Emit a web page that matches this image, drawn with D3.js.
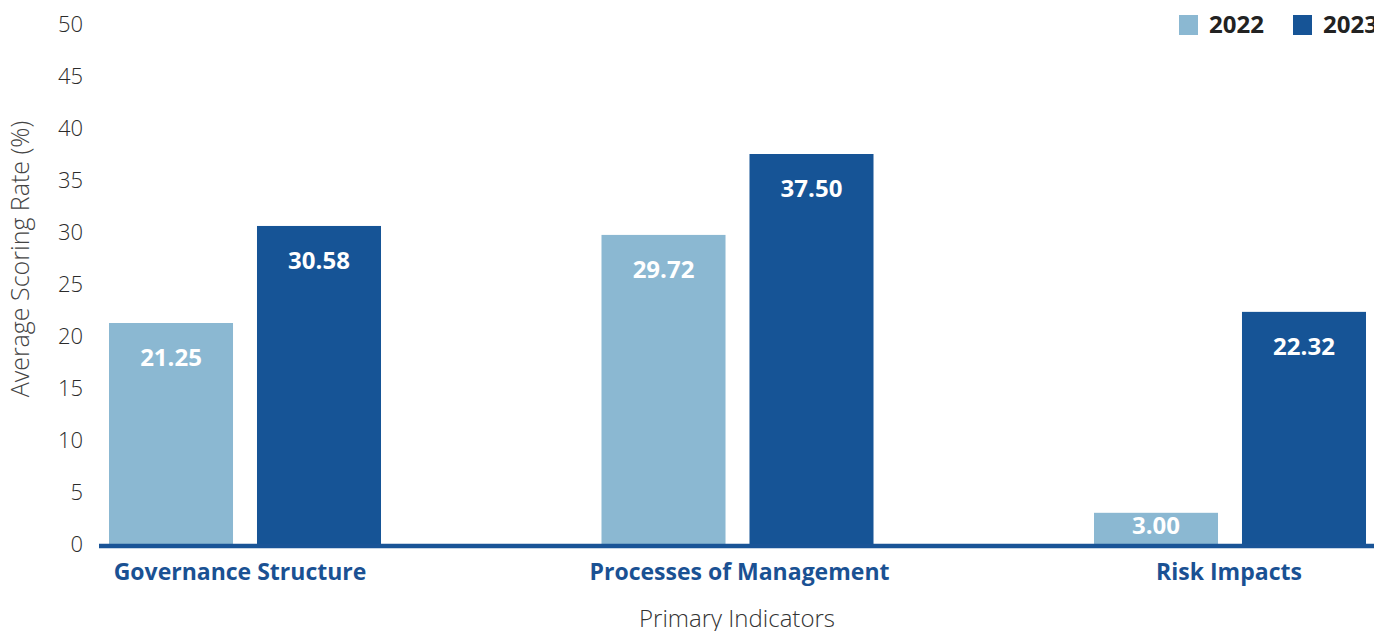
<!DOCTYPE html>
<html>
<head>
<meta charset="utf-8">
<script src="https://cdn.jsdelivr.net/npm/d3@7"></script>
<style>
  html, body { margin: 0; padding: 0; background: #fff; }
  svg { display: block; font-family: "Open Sans", "Noto Sans", sans-serif; }
</style>
</head>
<body>
<svg id="chart" width="1374" height="631"></svg>
<script>
// Average scoring rate by primary indicator, 2022 vs 2023
const categories = ["Governance Structure", "Processes of Management", "Risk Impacts"];
const years = ["2022", "2023"];
const values2022 = [21.25, 29.72, 3.00];
const values2023 = [30.58, 37.50, 22.32];
const yTicks = [0, 5, 10, 15, 20, 25, 30, 35, 40, 45, 50];

const colors = { "2022": "#8bb8d2", "2023": "#165496" };
const seriesValues = { "2022": values2022, "2023": values2023 };

const svg = d3.select("#chart");

const y = d3.scaleLinear().domain([0, 50]).range([544, 24]);

const x0 = d3.scaleBand()
  .domain(categories)
  .range([99, 1376])
  .paddingInner(0.4477)
  .paddingOuter(0.0203);

const x1 = d3.scaleBand()
  .domain(years)
  .range([0, x0.bandwidth()])
  .paddingInner(0.162)
  .paddingOuter(0);

// Y axis: tick labels only
const yAxis = d3.axisLeft(y).tickValues(yTicks).tickSize(0).tickPadding(0);
const gy = svg.append("g").attr("transform", "translate(83,0)").call(yAxis);
gy.select(".domain").remove();
gy.selectAll("text")
  .attr("font-family", "'Open Sans', sans-serif")
  .attr("font-size", 22)
  .attr("font-weight", 300)
  .attr("fill", "#2b2b2b");

// Y axis title
svg.append("text")
  .attr("transform", "translate(29,259) rotate(-90)")
  .attr("text-anchor", "middle")
  .attr("font-size", 25)
  .attr("font-weight", 300)
  .attr("fill", "#444")
  .text("Average Scoring Rate (%)");

// Bars
const rows = categories.map((c, i) => ({
  category: c,
  bars: years.map(yr => ({ year: yr, value: seriesValues[yr][i] }))
}));

const groups = svg.append("g").selectAll("g")
  .data(rows)
  .join("g")
  .attr("transform", d => `translate(${x0(d.category)},0)`);

groups.selectAll("rect")
  .data(d => d.bars)
  .join("rect")
  .attr("x", d => x1(d.year))
  .attr("y", d => y(d.value))
  .attr("width", x1.bandwidth())
  .attr("height", d => y(0) - y(d.value))
  .attr("fill", d => colors[d.year]);

groups.selectAll("text.val")
  .data(d => d.bars)
  .join("text")
  .attr("class", "val")
  .attr("x", d => x1(d.year) + x1.bandwidth() / 2)
  .attr("y", d => Math.min(y(d.value) + 35, y(0) - 18))
  .attr("dy", "0.35em")
  .attr("text-anchor", "middle")
  .attr("font-size", 24)
  .attr("font-weight", 700)
  .attr("fill", "#fff")
  .text(d => d.value.toFixed(2));

// X axis baseline and category labels
const xAxis = d3.axisBottom(x0).tickSize(0).tickPadding(0);
const gx = svg.append("g").attr("transform", `translate(0,${y(0)})`).call(xAxis);
gx.select(".domain").remove();
gx.append("line")
  .attr("x1", 99).attr("x2", 1374)
  .attr("y1", 2).attr("y2", 2)
  .attr("stroke", "#195497")
  .attr("stroke-width", 4.5);
const labelShift = [-5, 2, -1];
gx.selectAll(".tick text")
  .attr("x", (d, i) => labelShift[i])
  .attr("y", 28)
  .attr("dy", "0.35em")
  .attr("font-family", "'Open Sans', sans-serif")
  .attr("font-size", 23)
  .attr("font-weight", 700)
  .attr("fill", "#1a5193");

// X axis title
svg.append("text")
  .attr("x", 737)
  .attr("y", 627)
  .attr("text-anchor", "middle")
  .attr("font-size", 24)
  .attr("font-weight", 300)
  .attr("fill", "#333")
  .text("Primary Indicators");

// Legend
const legendX = [1179, 1293];
const legend = svg.append("g").selectAll("g")
  .data(years)
  .join("g")
  .attr("transform", (d, i) => `translate(${legendX[i]},15)`);
legend.append("rect")
  .attr("width", 19).attr("height", 20)
  .attr("fill", d => colors[d]);
legend.append("text")
  .attr("x", 30).attr("y", 10)
  .attr("dy", "0.35em")
  .attr("font-size", 24)
  .attr("font-weight", 700)
  .attr("fill", "#222")
  .text(d => d);
</script>
</body>
</html>
